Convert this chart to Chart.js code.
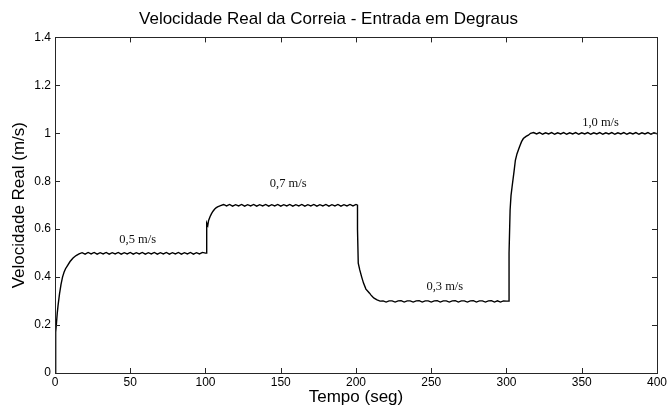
<!DOCTYPE html>
<html>
<head>
<meta charset="utf-8">
<script src="https://cdn.jsdelivr.net/npm/chart.js@4.4.0/dist/chart.umd.min.js"></script>
<style>
  html, body { margin: 0; padding: 0; background: #fff; }
  #wrap { width: 669px; height: 405px; }
</style>
</head>
<body>
<div id="wrap"><canvas id="grafico"></canvas></div>
<script>
// degrau de 0 -> 0,5 m/s
const tempo1 = [0, 0.3, 0.6, 1, 1.5, 2, 3, 4, 5, 6, 7, 8, 10, 12, 14, 16,
  18, 20, 22, 24, 26, 28, 30, 32, 34, 36, 38, 40, 42, 44, 46, 48, 50, 52, 54, 56, 58,
  60, 62, 64, 66, 68, 70, 72, 74, 76, 78, 80, 82, 84, 86, 88, 90, 92, 94, 96, 98, 100]
const vel1 = [0, 0.1, 0.17, 0.21, 0.25, 0.28, 0.33, 0.37, 0.4, 0.42, 0.435, 0.445, 0.465, 0.48, 0.49, 0.497,
  0.502, 0.496, 0.503, 0.497, 0.503, 0.496, 0.502, 0.497, 0.503, 0.496, 0.502, 0.497, 0.503, 0.496, 0.502,
  0.497, 0.503, 0.496, 0.502, 0.497, 0.503, 0.496, 0.502, 0.497, 0.503, 0.496, 0.502, 0.497, 0.503, 0.496,
  0.502, 0.497, 0.503, 0.496, 0.502, 0.497, 0.503, 0.496, 0.502, 0.497, 0.503, 0.5]

// degrau 0,5 -> 0,7 m/s
const tempo2 = [100.8, 100.8, 101.5, 102, 103, 104, 105, 106, 107, 108, 110, 112,
  114, 116, 118, 120, 122, 124, 126, 128, 130, 132, 134, 136, 138, 140, 142, 144, 146, 148, 150,
  152, 154, 156, 158, 160, 162, 164, 166, 168, 170, 172, 174, 176, 178, 180, 182, 184, 186, 188,
  190, 192, 194, 196, 198, 200]
const vel2 = [0.5, 0.625, 0.615, 0.635, 0.652, 0.665, 0.675, 0.683, 0.689, 0.693, 0.698, 0.703,
  0.697, 0.703, 0.696, 0.702, 0.697, 0.703, 0.696, 0.702, 0.697, 0.703, 0.696, 0.702, 0.697, 0.703,
  0.696, 0.702, 0.697, 0.703, 0.696, 0.702, 0.697, 0.703, 0.696, 0.702, 0.697, 0.703, 0.696, 0.702,
  0.697, 0.703, 0.696, 0.702, 0.697, 0.703, 0.696, 0.702, 0.697, 0.703, 0.696, 0.702, 0.697, 0.703,
  0.697, 0.703]

// degrau 0,7 -> 0,3 m/s
const tempo3 = [201, 201, 201.5, 202.5, 203.8, 205, 206.6, 208, 209, 210, 211, 212, 214, 216,
  218, 220, 222, 224, 226, 228, 230, 232, 234, 236, 238, 240, 242, 244, 246, 248, 250, 252, 254,
  256, 258, 260, 262, 264, 266, 268, 270, 272, 274, 276, 278, 280, 282, 284, 286, 288, 290, 292,
  294, 296, 298, 300]
const vel3 = [0.7, 0.6, 0.458, 0.43, 0.4, 0.375, 0.35, 0.34, 0.333, 0.325, 0.318, 0.312, 0.305, 0.3,
  0.301, 0.296, 0.301, 0.301, 0.296, 0.301, 0.302, 0.296, 0.301, 0.301, 0.296, 0.301, 0.302, 0.296,
  0.301, 0.301, 0.296, 0.301, 0.302, 0.296, 0.301, 0.301, 0.296, 0.301, 0.302, 0.296, 0.301, 0.301,
  0.296, 0.301, 0.302, 0.296, 0.301, 0.301, 0.296, 0.301, 0.302, 0.296, 0.301, 0.296, 0.301, 0.3]

// degrau 0,3 -> 1,0 m/s
const tempo4 = [301.7, 301.7, 302.4, 303, 303.7, 305, 305.9, 307, 308.6, 310, 311.2, 313, 314.5, 316,
  318, 320, 322, 324, 326, 328, 330, 332, 334, 336, 338, 340, 342, 344, 346, 348, 350, 352, 354,
  356, 358, 360, 362, 364, 366, 368, 370, 372, 374, 376, 378, 380, 382, 384, 386, 388, 390, 392,
  394, 396, 398, 400]
const vel4 = [0.3, 0.5, 0.68, 0.74, 0.776, 0.84, 0.8875, 0.915, 0.943, 0.965, 0.978, 0.987, 0.992, 1.0,
  1.003, 0.997, 1.003, 0.996, 1.002, 0.997, 1.003, 0.996, 1.002, 0.997, 1.003, 0.996, 1.002, 0.997,
  1.003, 0.996, 1.002, 0.997, 1.003, 0.996, 1.002, 0.997, 1.003, 0.996, 1.002, 0.997, 1.003, 0.996,
  1.002, 0.997, 1.003, 0.996, 1.002, 0.997, 1.003, 0.996, 1.002, 0.997, 1.003, 0.996, 1.002, 0.998]

const xTicks = [0, 50, 100, 150, 200, 250, 300, 350, 400]
const yTicks = [0, 0.2, 0.4, 0.6, 0.8, 1, 1.2, 1.4]
const yTickLabels = ['0', '0.2', '0.4', '0.6', '0.8', '1', '1.2', '1.4']

// rotulos dos degraus (texto, tempo, velocidade)
const rotulos = [
  { texto: '0,5 m/s', t: 55, v: 0.558 },
  { texto: '0,7 m/s', t: 155, v: 0.79 },
  { texto: '0,3 m/s', t: 259, v: 0.362 },
  { texto: '1,0 m/s', t: 362.5, v: 1.043 }
]

const tempo = [...tempo1, ...tempo2, ...tempo3, ...tempo4]
const velocidade = [...vel1, ...vel2, ...vel3, ...vel4]
const pontos = tempo.map((t, i) => ({ x: t, y: velocidade[i] }))

const SANS = '"Liberation Sans", Arial, sans-serif'

// moldura estilo matlab com marcas para dentro + rotulos
const molduraPlugin = {
  id: 'moldura',
  afterDraw(chart) {
    const ctx = chart.ctx
    const a = chart.chartArea
    const sx = chart.scales.x
    const sy = chart.scales.y
    const tam = 5
    ctx.save()
    ctx.strokeStyle = '#262626'
    ctx.lineWidth = 1
    ctx.strokeRect(Math.round(a.left) + 0.5, Math.round(a.top) + 0.5,
      Math.round(a.right - a.left), Math.round(a.bottom - a.top))
    ctx.beginPath()
    xTicks.forEach(v => {
      const px = Math.round(sx.getPixelForValue(v)) + 0.5
      ctx.moveTo(px, a.bottom); ctx.lineTo(px, a.bottom - tam)
      ctx.moveTo(px, a.top); ctx.lineTo(px, a.top + tam)
    })
    yTicks.forEach(v => {
      const py = Math.round(sy.getPixelForValue(v)) + 0.5
      ctx.moveTo(a.left, py); ctx.lineTo(a.left + tam, py)
      ctx.moveTo(a.right, py); ctx.lineTo(a.right - tam, py)
    })
    ctx.stroke()

    ctx.fillStyle = '#111'
    ctx.font = '12.5px "Liberation Serif", "Times New Roman", serif'
    ctx.textAlign = 'center'
    ctx.textBaseline = 'middle'
    rotulos.forEach(r => {
      ctx.fillText(r.texto, sx.getPixelForValue(r.t), sy.getPixelForValue(r.v))
    })
    ctx.restore()
  }
}

new Chart(document.getElementById('grafico'), {
  type: 'line',
  data: {
    datasets: [{
      label: 'Velocidade Real',
      data: pontos,
      borderColor: '#000',
      borderWidth: 1.4,
      pointRadius: 0,
      fill: false,
      tension: 0
    }]
  },
  options: {
    responsive: true,
    maintainAspectRatio: false,
    animation: false,
    devicePixelRatio: 1,
    layout: { padding: { left: 0, right: 12, top: 0, bottom: 0 } },
    plugins: {
      legend: { display: false },
      tooltip: { enabled: false },
      title: {
        display: true,
        text: 'Velocidade Real da Correia - Entrada em Degraus',
        color: '#000',
        font: { family: SANS, size: 17, weight: 'normal' },
        padding: { top: 9, bottom: 8 }
      }
    },
    scales: {
      x: {
        type: 'linear',
        min: 0,
        max: 400,
        afterBuildTicks: s => { s.ticks = xTicks.map(v => ({ value: v })) },
        ticks: {
          color: '#000',
          font: { family: SANS, size: 12 },
          padding: 2,
          maxRotation: 0,
          autoSkip: false
        },
        grid: { display: false, drawTicks: false },
        border: { display: false },
        title: {
          display: true,
          text: 'Tempo (seg)',
          color: '#000',
          font: { family: SANS, size: 17 },
          padding: { top: 0, bottom: -3 }
        },
        afterFit: s => { s.height = 32 }
      },
      y: {
        type: 'linear',
        min: 0,
        max: 1.4,
        afterBuildTicks: s => { s.ticks = yTicks.map(v => ({ value: v })) },
        ticks: {
          color: '#000',
          font: { family: SANS, size: 12 },
          padding: 4,
          autoSkip: false,
          callback: (v, i) => yTickLabels[i]
        },
        grid: { display: false, drawTicks: false },
        border: { display: false },
        title: {
          display: true,
          text: 'Velocidade Real (m/s)',
          color: '#000',
          font: { family: SANS, size: 17 },
          padding: { top: 9, bottom: 0 }
        },
        afterFit: s => { s.width = 55 }
      }
    }
  },
  plugins: [molduraPlugin]
})
</script>
</body>
</html>
